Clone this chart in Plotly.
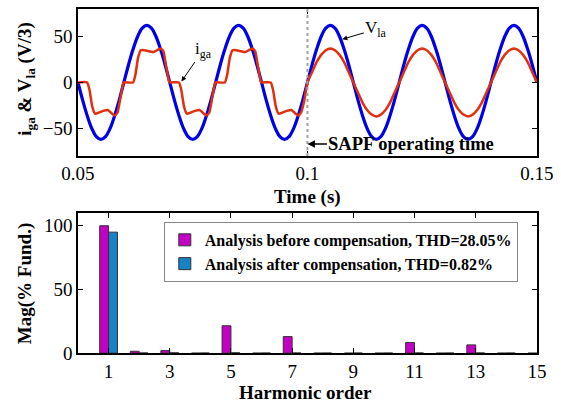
import plotly.graph_objects as go
import numpy as np

FONT = "Liberation Serif"

# ---------------- top panel data ----------------
# grid of sample times for the voltage (1 ms step), 0.05 .. 0.15 s
t_v = np.round(np.arange(0.050, 0.1505, 0.001), 4).tolist()
# load voltage V_la / 3 (volts)
v_la = [0, -19, -36, -50, -59, -62, -59, -50, -36, -19, 0, 19, 36, 50, 59, 62, 59, 50, 36, 19,
        0, -19, -36, -50, -59, -62, -59, -50, -36, -19, 0, 19, 36, 50, 59, 62, 59, 50, 36, 19,
        0, -19, -36, -50, -59, -62, -59, -50, -36, -19, 0, 19, 36, 50, 59, 62, 59, 50, 36, 19,
        0, -19, -36, -50, -59, -62, -59, -50, -36, -19, 0, 19, 36, 50, 59, 62, 59, 50, 36, 19,
        0, -19, -36, -50, -59, -62, -59, -50, -36, -19, 0, 19, 36, 50, 59, 62, 59, 50, 36, 19,
        0]

# grid current i_ga: distorted before SAPF start, sinusoidal after
t_i = [0.0500, 0.0520, 0.0525, 0.0531, 0.0537, 0.0545, 0.0555, 0.0565, 0.0572, 0.0580, 0.0586, 0.0592, 0.0598,
       0.0600, 0.0620, 0.0625, 0.0631, 0.0637, 0.0645, 0.0655, 0.0665, 0.0672, 0.0680, 0.0686, 0.0692, 0.0698,
       0.0700, 0.0720, 0.0725, 0.0731, 0.0737, 0.0745, 0.0755, 0.0765, 0.0772, 0.0780, 0.0786, 0.0792, 0.0798,
       0.0800, 0.0820, 0.0825, 0.0831, 0.0837, 0.0845, 0.0855, 0.0865, 0.0872, 0.0880, 0.0886, 0.0892, 0.0898,
       0.0900, 0.0920, 0.0925, 0.0931, 0.0937, 0.0945, 0.0955, 0.0965, 0.0972, 0.0980, 0.0986, 0.0993,
       0.100, 0.101, 0.102, 0.103, 0.104, 0.105, 0.106, 0.107, 0.108, 0.109,
       0.110, 0.111, 0.112, 0.113, 0.114, 0.115, 0.116, 0.117, 0.118, 0.119,
       0.120, 0.121, 0.122, 0.123, 0.124, 0.125, 0.126, 0.127, 0.128, 0.129,
       0.130, 0.131, 0.132, 0.133, 0.134, 0.135, 0.136, 0.137, 0.138, 0.139,
       0.140, 0.141, 0.142, 0.143, 0.144, 0.145, 0.146, 0.147, 0.148, 0.149,
       0.150]
i_ga = [0, 0, -8, -26, -34, -33, -31, -30, -33, -36, -33, -18, -2,
        0, 0, 8, 27, 35, 35, 34, 33, 35, 37, 34, 18, 2,
        0, 0, -8, -26, -34, -33, -31, -30, -33, -36, -33, -18, -2,
        0, 0, 8, 27, 35, 35, 34, 33, 35, 37, 34, 18, 2,
        0, 0, -8, -26, -34, -33, -31, -30, -33, -36, -33, -20,
        0, 11, 22, 30, 35, 37, 35, 30, 22, 11,
        0, -11, -22, -30, -35, -37, -35, -30, -22, -11,
        0, 11, 22, 30, 35, 37, 35, 30, 22, 11,
        0, -11, -22, -30, -35, -37, -35, -30, -22, -11,
        0, 11, 22, 30, 35, 37, 35, 30, 22, 11,
        0]

SAPF_TIME = 0.1

# ---------------- bottom panel data ----------------
harmonics = list(range(1, 16))
mag_before = [100, 1.5, 2, 0, 21.5, 0, 13, 0, 0, 0, 8.3, 0, 6.5, 0, 0]
mag_after = [95, 0.2, 0.3, 0.1, 0.3, 0.1, 0.2, 0.1, 0.1, 0.1, 0.2, 0.1, 0.2, 0.1, 0.1]
name_before = "Analysis before compensation, THD=28.05%"
name_after = "Analysis after compensation, THD=0.82%"

fig = go.Figure()
fig.add_trace(go.Scatter(x=t_v, y=v_la, mode="lines", xaxis="x", yaxis="y", showlegend=False,
                         line=dict(color="#0000E8", width=3.2, shape="spline", smoothing=0.9)))
fig.add_trace(go.Scatter(x=t_i, y=i_ga, mode="lines", xaxis="x", yaxis="y", showlegend=False,
                         line=dict(color="#E0300C", width=2.5, shape="spline", smoothing=0.5)))
fig.add_trace(go.Bar(x=harmonics, y=mag_before, name=name_before, xaxis="x2", yaxis="y2",
                     marker=dict(color="#C400C4", line=dict(color="#333333", width=1))))
fig.add_trace(go.Bar(x=harmonics, y=mag_after, name=name_after, xaxis="x2", yaxis="y2",
                     marker=dict(color="#1782C6", line=dict(color="#333333", width=1))))

axis_common = dict(showline=True, linecolor="black", linewidth=1.5, mirror="ticks",
                   ticks="inside", ticklen=5, tickwidth=1, tickcolor="black",
                   showgrid=False, zeroline=False, automargin=False,
                   tickfont=dict(family=FONT, size=19, color="black"))
title_font = dict(family=FONT, size=19, color="black", weight="bold")

fig.update_layout(
    width=561, height=405,
    margin=dict(l=0, r=0, t=0, b=0),
    paper_bgcolor="white", plot_bgcolor="white",
    barmode="group", bargap=0.42, bargroupgap=0,
    xaxis=dict(domain=[0.139, 0.957], range=[0.05, 0.15], anchor="y",
               tickvals=[0.05, 0.1, 0.15], ticktext=["0.05", "0.1", "0.15"], **axis_common),
    yaxis=dict(domain=[0.615, 0.978], range=[-80, 80], anchor="x",
               tickvals=[-50, 0, 50], **axis_common),
    xaxis2=dict(domain=[0.139, 0.957], range=[0, 15], anchor="y2",
                tickvals=[1, 3, 5, 7, 9, 11, 13, 15], **axis_common),
    yaxis2=dict(domain=[0.128, 0.474], range=[0, 110], anchor="x2",
                tickvals=[0, 50, 100], **axis_common),
    legend=dict(x=0.292, y=0.452, xanchor="left", yanchor="top",
                bgcolor="white", bordercolor="#888888", borderwidth=1,
                font=dict(family=FONT, size=16, color="black", weight="bold"),
                tracegroupgap=0, itemwidth=30),
    shapes=[dict(type="line", xref="x", yref="y domain", x0=SAPF_TIME, x1=SAPF_TIME, y0=0, y1=1,
                 line=dict(color="#A0A0A0", width=2, dash="dot"))],
    annotations=[
        # axis titles
        dict(x=0.548, y=0.513, xref="paper", yref="paper", text="Time (s)", showarrow=False,
             xanchor="center", yanchor="middle", font=title_font),
        dict(x=0.046, y=0.805, xref="paper", yref="paper",
             text="i<sub>ga</sub> & V<sub>la</sub> (V/3)", showarrow=False, textangle=-90,
             xanchor="center", yanchor="middle", font=title_font),
        dict(x=0.545, y=0.030, xref="paper", yref="paper", text="Harmonic order", showarrow=False,
             xanchor="center", yanchor="middle", font=title_font),
        dict(x=0.045, y=0.299, xref="paper", yref="paper", text="Mag(% Fund.)", showarrow=False,
             textangle=-90, xanchor="center", yanchor="middle", font=title_font),
        # callouts
        dict(x=SAPF_TIME, y=-67, xref="x", yref="y", text="<b>SAPF operating time</b>",
             showarrow=True, ax=104, ay=0, arrowhead=2, arrowsize=1, arrowwidth=1.5,
             arrowcolor="black", font=dict(family=FONT, size=18.5, color="black")),
        dict(x=0.07255, y=1, xref="x", yref="y", text="i<sub>ga</sub>",
             showarrow=True, ax=22, ay=-32, arrowhead=2, arrowsize=1, arrowwidth=1,
             arrowcolor="black", font=dict(family=FONT, size=17, color="black")),
        dict(x=0.1076, y=47, xref="x", yref="y", text="V<sub>la</sub>",
             showarrow=True, ax=34, ay=-10, arrowhead=2, arrowsize=1, arrowwidth=1,
             arrowcolor="black", font=dict(family=FONT, size=17, color="black")),
    ],
)

fig.write_html("out.html")
